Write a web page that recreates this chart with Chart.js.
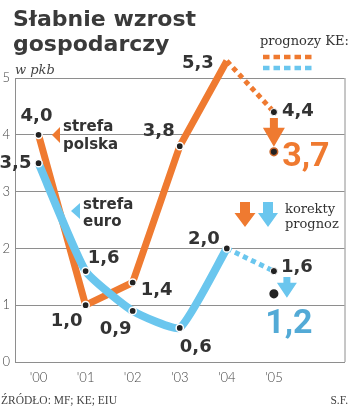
<!DOCTYPE html>
<html><head><meta charset="utf-8">
<script src="https://cdn.jsdelivr.net/npm/chart.js@4"></script>
<style>html,body{margin:0;padding:0;background:#fff}</style>
</head><body>
<canvas id="c" width="350" height="406"></canvas>
<script>
// GDP growth, % (w pkb)
const years = ["'00", "'01", "'02", "'03", "'04", "'05"];
const polska = [4.0, 1.0, 1.4, 3.8, 5.3];        // '00–'04
const euro = [3.5, 1.6, 0.9, 0.6, 2.0];          // '00–'04
const polskaKE = [5.3, 4.4];                     // prognoza KE '04 → '05
const euroKE = [2.0, 1.6];
const polskaKorekta = 3.7;                       // korekta prognozy '05
const euroKorekta = 1.2;
const yTicks = [0, 1, 2, 3, 4, 5];

const ORANGE = '#ef7a30';
const BLUE = '#6ac6ee';
const BLUE_TXT = '#53aad6';
const INK = '#333333';
const GRID = '#8e8e8e';

const pts = (arr, start) => arr.map((v, i) => ({ x: start + i, y: v }));
const fmt = v => v.toFixed(1).replace('.', ',');

// label offsets from their points (px)
const polskaOff = [[-2, -18], [-19, 16], [24, 8], [-21, -15], [-29, 2]];
const euroOff = [[-23, 0], [18, -13], [-17, 18], [16, 19], [-23, -9]];

function arrow(ctx, x, yTop, yTip, shaftW, headW, headL, color) {
  ctx.save();
  ctx.fillStyle = color;
  ctx.beginPath();
  ctx.moveTo(x - shaftW / 2, yTop);
  ctx.lineTo(x + shaftW / 2, yTop);
  ctx.lineTo(x + shaftW / 2, yTip - headL);
  ctx.lineTo(x + headW / 2, yTip - headL);
  ctx.lineTo(x, yTip);
  ctx.lineTo(x - headW / 2, yTip - headL);
  ctx.lineTo(x - shaftW / 2, yTip - headL);
  ctx.closePath();
  ctx.fill();
  ctx.restore();
}

function tri(ctx, xTip, y, w, h, color) {
  ctx.save();
  ctx.fillStyle = color;
  ctx.beginPath();
  ctx.moveTo(xTip, y);
  ctx.lineTo(xTip + w, y - h / 2);
  ctx.lineTo(xTip + w, y + h / 2);
  ctx.closePath();
  ctx.fill();
  ctx.restore();
}

function text(ctx, s, x, y, font, color, align, base) {
  ctx.font = font;
  ctx.fillStyle = color;
  ctx.textAlign = align || 'left';
  ctx.textBaseline = base || 'alphabetic';
  ctx.fillText(s, x, y);
}

const decor = {
  id: 'decor',
  afterDatasetsDraw(chart) {
    const { ctx, chartArea: a, scales: { x: xs, y: ys } } = chart;
    ctx.save();
    // right edge of frame
    ctx.strokeStyle = GRID;
    ctx.lineWidth = 1;
    ctx.beginPath();
    ctx.moveTo(a.right + 0.5, a.top);
    ctx.lineTo(a.right + 0.5, a.bottom);
    ctx.stroke();

    // corrections of forecasts
    const x5 = xs.getPixelForValue(5);
    arrow(ctx, x5, ys.getPixelForValue(polskaKE[1]) + 6, ys.getPixelForValue(polskaKorekta) - 5, 8, 22, 19, ORANGE);
    arrow(ctx, x5 + 13, ys.getPixelForValue(euroKE[1]) + 6, ys.getPixelForValue(euroKorekta) + 4, 7, 20, 15, BLUE);

    // value labels
    const small = 'bold 18px "DejaVu Sans"';
    polska.forEach((v, i) => {
      text(ctx, fmt(v), xs.getPixelForValue(i) + polskaOff[i][0], ys.getPixelForValue(v) + polskaOff[i][1], small, INK, 'center', 'middle');
    });
    euro.forEach((v, i) => {
      text(ctx, fmt(v), xs.getPixelForValue(i) + euroOff[i][0], ys.getPixelForValue(v) + euroOff[i][1], small, INK, 'center', 'middle');
    });
    text(ctx, fmt(polskaKE[1]), x5 + 24, ys.getPixelForValue(polskaKE[1]) - 1, small, INK, 'center', 'middle');
    text(ctx, fmt(euroKE[1]), x5 + 23, ys.getPixelForValue(euroKE[1]) - 4, small, INK, 'center', 'middle');
    const big = 'bold 34px Roboto';
    text(ctx, fmt(polskaKorekta), x5 + 32, ys.getPixelForValue(polskaKorekta) + 6, big, ORANGE, 'center', 'middle');
    text(ctx, fmt(euroKorekta), x5 + 15, ys.getPixelForValue(euroKorekta) + 31, big, BLUE_TXT, 'center', 'middle');

    // series names
    const nameFont = 'bold 15px "DejaVu Sans"';
    tri(ctx, 52, 135, 8, 16, ORANGE);
    text(ctx, 'strefa', 63, 131, nameFont, INK);
    text(ctx, 'polska', 63, 149, nameFont, INK);
    tri(ctx, 71, 211, 9, 16, BLUE);
    text(ctx, 'strefa', 83, 209, nameFont, INK);
    text(ctx, 'euro', 83, 226, nameFont, INK);

    // title and unit
    const tFont = 'bold 22px "DejaVu Sans"';
    text(ctx, 'Słabnie wzrost', 13, 26, tFont, '#3a3a3a');
    text(ctx, 'gospodarczy', 13, 51, tFont, '#3a3a3a');
    text(ctx, 'w pkb', 15, 74, 'italic 13px "DejaVu Serif"', '#444');

    // forecast key
    const serif = '13px "DejaVu Serif"';
    text(ctx, 'prognozy KE:', 260, 45, serif, '#333');
    ctx.lineWidth = 4.5;
    ctx.setLineDash([6.5, 4]);
    ctx.strokeStyle = ORANGE;
    ctx.beginPath(); ctx.moveTo(263, 57); ctx.lineTo(314, 57); ctx.stroke();
    ctx.strokeStyle = BLUE;
    ctx.beginPath(); ctx.moveTo(263, 68); ctx.lineTo(314, 68); ctx.stroke();
    ctx.setLineDash([]);

    // correction key
    arrow(ctx, 245, 202, 227, 10, 21, 14, ORANGE);
    arrow(ctx, 268, 202, 227, 10, 20, 14, BLUE);
    text(ctx, 'korekty', 285, 213, serif, '#333');
    text(ctx, 'prognoz', 285, 228, serif, '#333');

    // footer
    text(ctx, 'ŹRÓDŁO: MF; KE; EIU', 1, 404, '11.5px "Liberation Serif"', '#444');
    text(ctx, 'S.F.', 348, 404, '11.5px "Liberation Serif"', '#444', 'right');
    ctx.restore();
  }
};

new Chart(document.getElementById('c'), {
  type: 'line',
  data: {
    datasets: [
      {
        label: 'strefa euro',
        data: pts(euro, 0),
        borderColor: BLUE, borderWidth: 8, tension: 0.15,
        borderJoinStyle: 'round',
        pointRadius: 3.6, pointBackgroundColor: '#222', pointBorderColor: '#fff', pointBorderWidth: 1.5
      },
      {
        label: 'strefa polska',
        data: pts(polska, 0),
        borderColor: ORANGE, borderWidth: 7, tension: 0,
        borderJoinStyle: 'round',
        pointRadius: 3.6, pointBackgroundColor: '#222', pointBorderColor: '#fff', pointBorderWidth: 1.5
      },
      {
        label: 'prognoza KE – strefa euro',
        data: pts(euroKE, 4),
        borderColor: BLUE, borderWidth: 5, borderDash: [5, 4],
        pointRadius: [0, 3.6], pointBackgroundColor: '#222', pointBorderColor: '#fff', pointBorderWidth: 1
      },
      {
        label: 'prognoza KE – strefa polska',
        data: pts(polskaKE, 4),
        borderColor: ORANGE, borderWidth: 5, borderDash: [5, 4],
        pointRadius: [0, 3.6], pointBackgroundColor: '#222', pointBorderColor: '#fff', pointBorderWidth: 1
      },
      {
        label: 'korekta',
        data: [{ x: 5, y: polskaKorekta }, { x: 5, y: euroKorekta }],
        showLine: false,
        pointRadius: 3.8, pointBackgroundColor: '#222',
        pointBorderColor: ['#c8652a', '#222'], pointBorderWidth: 1.5
      }
    ]
  },
  options: {
    responsive: false,
    animation: false,
    devicePixelRatio: 1,
    clip: false,
    layout: { padding: { top: 78, right: 3, left: 0, bottom: 0 } },
    plugins: { legend: { display: false }, tooltip: { enabled: false } },
    scales: {
      x: {
        type: 'linear', min: -0.5, max: 6.5,
        afterBuildTicks: ax => { ax.ticks = years.map((_, i) => ({ value: i })); },
        afterFit: ax => { ax.height = 44; },
        ticks: {
          callback: v => years[v] ?? '',
          color: '#444', font: { family: 'Lato', size: 13, weight: 300 }, padding: 8, maxRotation: 0
        },
        grid: { display: false, drawTicks: false },
        border: { display: true, color: GRID, width: 1 }
      },
      y: {
        min: 0, max: 5,
        afterBuildTicks: ax => { ax.ticks = yTicks.map(v => ({ value: v })); },
        afterFit: ax => { ax.width = 15; },
        ticks: { color: '#444', font: { family: 'Lato', size: 13, weight: 300 }, padding: 5 },
        grid: { color: GRID, lineWidth: 1, drawTicks: false },
        border: { display: true, color: GRID, width: 1 }
      }
    }
  },
  plugins: [decor]
});
</script>
</body></html>
